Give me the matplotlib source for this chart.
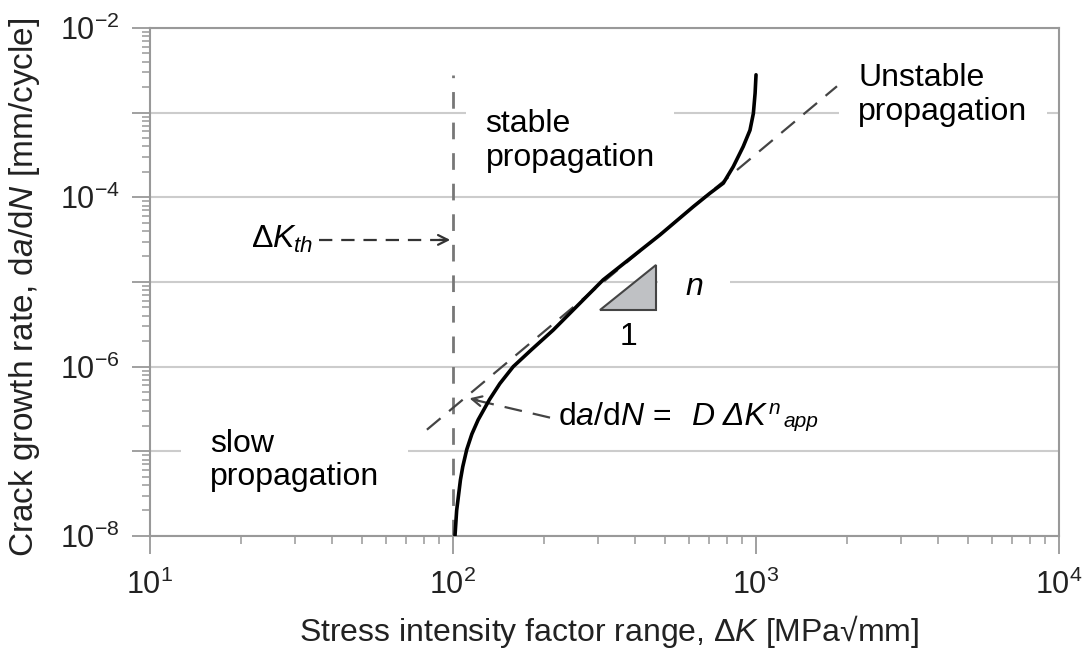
import math
import matplotlib.pyplot as plt
from matplotlib.ticker import LogLocator, FuncFormatter, NullFormatter

# growth curve: delta K [MPa sqrt(mm)] vs da/dN [mm/cycle]
curve_dk = [101.5, 102.8, 105.8, 107.7, 111, 115.4, 121, 132, 142.7, 158, 182, 214,
            313, 482, 621, 705, 780, 841, 907, 955, 980, 993, 1000]
curve_rate = [1.0e-8, 2.0e-8, 4.6e-8, 6.6e-8, 1.05e-7, 1.6e-7, 2.35e-7, 4.1e-7, 6.3e-7,
              1.0e-6, 1.6e-6, 2.7e-6, 1.06e-5, 3.6e-5, 7.76e-5, 1.12e-4, 1.47e-4, 2.3e-4,
              3.97e-4, 6.2e-4, 9.8e-4, 1.7e-3, 2.8e-3]

# Paris law line (slope n = 3), end points
paris_dk = [82, 1850]
paris_rate = [1.8e-7, 2.05e-3]

# threshold
dk_th = 100
th_rate = [1e-8, 2.8e-3]

# slope triangle
tri_dk = [305, 468, 468, 305]
tri_rate = [4.7e-6, 4.7e-6, 1.6e-5, 4.7e-6]

plt.rcParams['font.family'] = ['Liberation Sans', 'DejaVu Sans']
plt.rcParams['mathtext.fontset'] = 'custom'
plt.rcParams['mathtext.rm'] = 'Liberation Sans'
plt.rcParams['mathtext.it'] = 'Liberation Sans:italic'
plt.rcParams['mathtext.sf'] = 'Liberation Sans'

fig = plt.figure(figsize=(10.91, 6.57), dpi=100)
ax = fig.add_axes([0.1375, 0.1842, 0.8332, 0.7732])
ax.set_xscale('log')
ax.set_yscale('log')
ax.set_xlim(10, 1e4)
ax.set_ylim(1e-8, 1e-2)

# ticks
ax.xaxis.set_major_locator(LogLocator(base=10, numticks=10))
ax.yaxis.set_major_locator(LogLocator(base=10, numticks=10))
ax.xaxis.set_minor_locator(LogLocator(base=10, subs=range(2, 10), numticks=100))
ax.yaxis.set_minor_locator(LogLocator(base=10, subs=range(2, 10), numticks=100))
ax.xaxis.set_minor_formatter(NullFormatter())
ax.yaxis.set_minor_formatter(NullFormatter())


def xfmt(v, pos):
    e = int(round(math.log10(v)))
    return r'$10^{%d}$' % e


def yfmt(v, pos):
    e = int(round(math.log10(v)))
    if e % 2:
        return ''
    return r'$10^{%d}$' % e


ax.xaxis.set_major_formatter(FuncFormatter(xfmt))
ax.yaxis.set_major_formatter(FuncFormatter(yfmt))
ax.tick_params(which='major', length=13, width=1.3, color='#999999', labelsize=22,
               labelcolor='#222222', pad=9)
ax.tick_params(which='minor', length=6, width=1.1, color='#999999')
ax.tick_params(axis='x', which='major', pad=11)

for s in ax.spines.values():
    s.set_color('#999999')
    s.set_linewidth(1.5)

ax.grid(axis='y', which='major', color='#cccccc', linewidth=1.5)
ax.set_axisbelow(True)

# data lines
ax.plot([dk_th, dk_th], th_rate, color='#777777', lw=2, dashes=(6, 5), zorder=2)
ax.plot(paris_dk, paris_rate, color='#444444', lw=1.6, dashes=(8, 5), zorder=3)
ax.plot(curve_dk, curve_rate, color='black', lw=2.6, zorder=4,
        solid_capstyle='round', solid_joinstyle='round')
ax.fill(tri_dk, tri_rate, facecolor='#bfc1c4', edgecolor='#444444', lw=1.5, zorder=3)

white = dict(facecolor='white', edgecolor='none', boxstyle='square,pad=0.6')
ax.text(128, 4.6e-4, 'stable\npropagation', fontsize=23, ha='left', va='center',
        linespacing=1.15, bbox=white, zorder=1.5)
ax.text(2173, 1.62e-3, 'Unstable\npropagation', fontsize=23, ha='left', va='center',
        linespacing=1.15, bbox=white, zorder=1.5)
ax.text(15.8, 7.8e-8, 'slow\npropagation', fontsize=23, ha='left', va='center',
        linespacing=1.15, bbox=dict(facecolor='white', edgecolor='none', boxstyle='square,pad=0.9'),
        zorder=1.5)
ax.text(624, 7.05e-6, 'n', fontsize=23, style='italic', ha='center', va='baseline',
        bbox=dict(facecolor='white', edgecolor='none', boxstyle='square,pad=0.85'), zorder=1.5)
ax.text(379, 1.81e-6, '1', fontsize=23, ha='center', va='baseline', zorder=5)

# threshold arrow
ax.text(34.5, 2.53e-5, 'Δ$K_{th}$', fontsize=23, ha='right', va='baseline')
ax.plot([36, 97], [3.14e-5, 3.14e-5], color='#333333', lw=1.6, dashes=(6, 4))
ax.annotate('', xy=(dk_th, 3.14e-5), xytext=(-12, 0), textcoords='offset points',
            arrowprops=dict(arrowstyle='->,head_length=0.7,head_width=0.35', color='#333333', lw=1.6))

# Paris law label and arrow
ax.text(222, 2.06e-7, 'd$a$/d$N$ =', fontsize=23, ha='left', va='baseline')
ax.text(615, 2.06e-7, 'D ΔK', fontsize=23, style='italic', ha='left', va='baseline')
ax.annotate('n', xy=(615, 2.06e-7), xytext=(55, 7.5), textcoords='offset points',
            fontsize=15, style='italic', va='baseline')
ax.annotate('app', xy=(615, 2.06e-7), xytext=(66, -1.5), textcoords='offset points',
            fontsize=15, style='italic', va='baseline')
ax.plot([209, 116], [2.5e-7, 4.1e-7], color='#444444', lw=1.6, dashes=(8, 5))
ax.annotate('', xy=(111, 4.3e-7), xytext=(9.7, -2.3), textcoords='offset points',
            arrowprops=dict(arrowstyle='->,head_length=0.7,head_width=0.35', color='#444444', lw=1.6))

ax.set_xlabel('Stress intensity factor range, Δ$K$ [MPa√mm]', fontsize=23, color='#222222')
ax.set_ylabel('Crack growth rate, d$a$/d$N$ [mm/cycle]', fontsize=24, color='#222222')
ax.xaxis.label.set_va('center')
ax.yaxis.label.set_va('center')
ax.xaxis.set_label_coords(0.505, -0.189)
ax.yaxis.set_label_coords(-0.138, 0.49)

fig.savefig('out.png', dpi=100, facecolor='white')
